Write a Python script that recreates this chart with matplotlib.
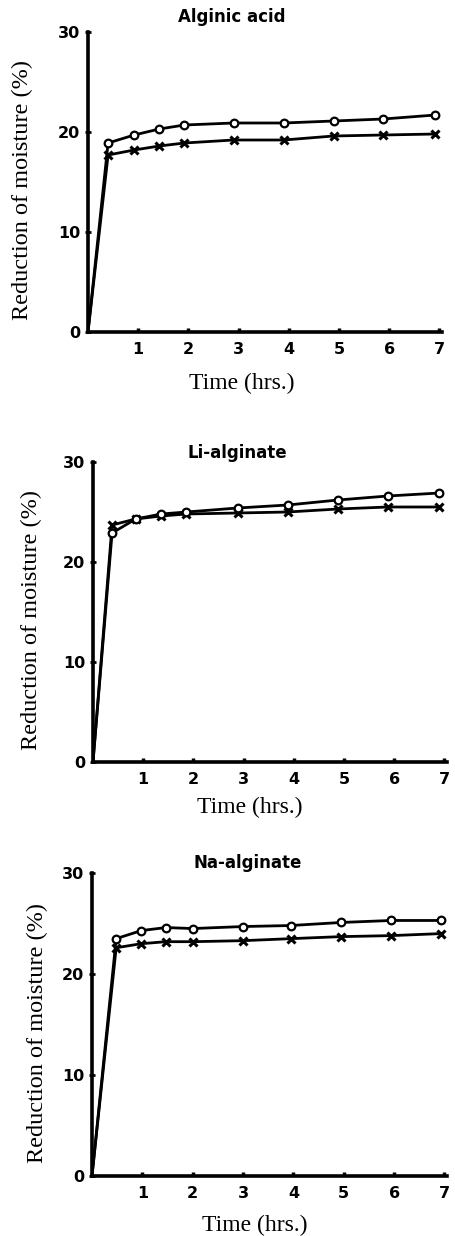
import matplotlib
matplotlib.use("Agg")
import matplotlib.pyplot as plt

# values (time in hrs, reduction in %)
titles = ["Alginic acid", "Li-alginate", "Na-alginate"]

t_alg = [0, 0.40, 0.92, 1.42, 1.92, 2.90, 3.90, 4.89, 5.88, 6.92]
o_alg = [0, 18.9, 19.7, 20.3, 20.7, 20.9, 20.9, 21.1, 21.3, 21.7]
x_alg = [0, 17.7, 18.2, 18.6, 18.9, 19.2, 19.2, 19.6, 19.7, 19.8]

t_li = [0, 0.38, 0.85, 1.36, 1.86, 2.88, 3.88, 4.88, 5.87, 6.9]
o_li = [0, 22.9, 24.3, 24.8, 25.0, 25.4, 25.7, 26.2, 26.6, 26.9]
x_li = [0, 23.7, 24.3, 24.6, 24.8, 24.9, 25.0, 25.3, 25.5, 25.5]

t_na = [0, 0.48, 0.98, 1.47, 2.0, 3.0, 3.95, 4.94, 5.94, 6.93]
o_na = [0, 23.5, 24.3, 24.6, 24.5, 24.7, 24.8, 25.1, 25.3, 25.3]
x_na = [0, 22.6, 23.0, 23.2, 23.2, 23.3, 23.5, 23.7, 23.8, 24.0]

yticks = [0, 10, 20, 30]
xticks = [1, 2, 3, 4, 5, 6, 7]

W, H = 455, 1236
fig = plt.figure(figsize=(W / 100, H / 100), dpi=100)

# pixel boxes (left, top, right, bottom) of each panel
boxes = [(88, 32, 442, 332), (93, 462, 447, 762), (92, 873, 447, 1176)]
title_pos = [(232, 17), (237, 453), (248, 863)]
xlab_pos = [(242, 383), (250, 807), (255, 1225)]
ylab_pos = [(22, 190), (31, 620), (37, 1033)]
series = [(t_alg, o_alg, x_alg), (t_li, o_li, x_li), (t_na, o_na, x_na)]

serif = ["Liberation Serif", "DejaVu Serif"]

for i in range(3):
    l, t, r, b = boxes[i]
    ax = fig.add_axes([l / W, 1 - b / H, (r - l) / W, (b - t) / H])
    tt, oo, xx = series[i]
    ax.plot(tt, xx, color="black", lw=2.0, marker="x", ms=5.5, mew=2.2,
            markevery=list(range(1, len(tt))), zorder=3)
    ax.plot(tt, oo, color="black", lw=2.0, marker="o", ms=5.5, mew=1.6,
            mfc="white", markevery=list(range(1, len(tt))), zorder=4)
    ax.set_xlim(0, 7.05)
    ax.set_ylim(0, 30)
    ax.set_yticks(yticks)
    ax.set_xticks(xticks)
    for s in ["top", "right"]:
        ax.spines[s].set_visible(False)
    for s in ["left", "bottom"]:
        ax.spines[s].set_linewidth(2.6)
    ax.tick_params(axis="y", direction="inout", length=5, width=2, pad=3)
    ax.tick_params(axis="x", direction="in", length=3, width=2.5, pad=7)
    for lab in ax.get_xticklabels() + ax.get_yticklabels():
        lab.set_fontweight("bold")
        lab.set_fontsize(11.5)
    fig.text(title_pos[i][0] / W, 1 - title_pos[i][1] / H, titles[i],
             ha="center", va="center", fontsize=12, fontweight="bold")
    fig.text(xlab_pos[i][0] / W, 1 - xlab_pos[i][1] / H, "Time (hrs.)",
             ha="center", va="center", fontsize=17, family=serif)
    fig.text(ylab_pos[i][0] / W, 1 - ylab_pos[i][1] / H,
             "Reduction of moisture (%)", ha="center", va="center",
             rotation=90, fontsize=17.5, family=serif)

fig.savefig("out.png", dpi=100, facecolor="white")
